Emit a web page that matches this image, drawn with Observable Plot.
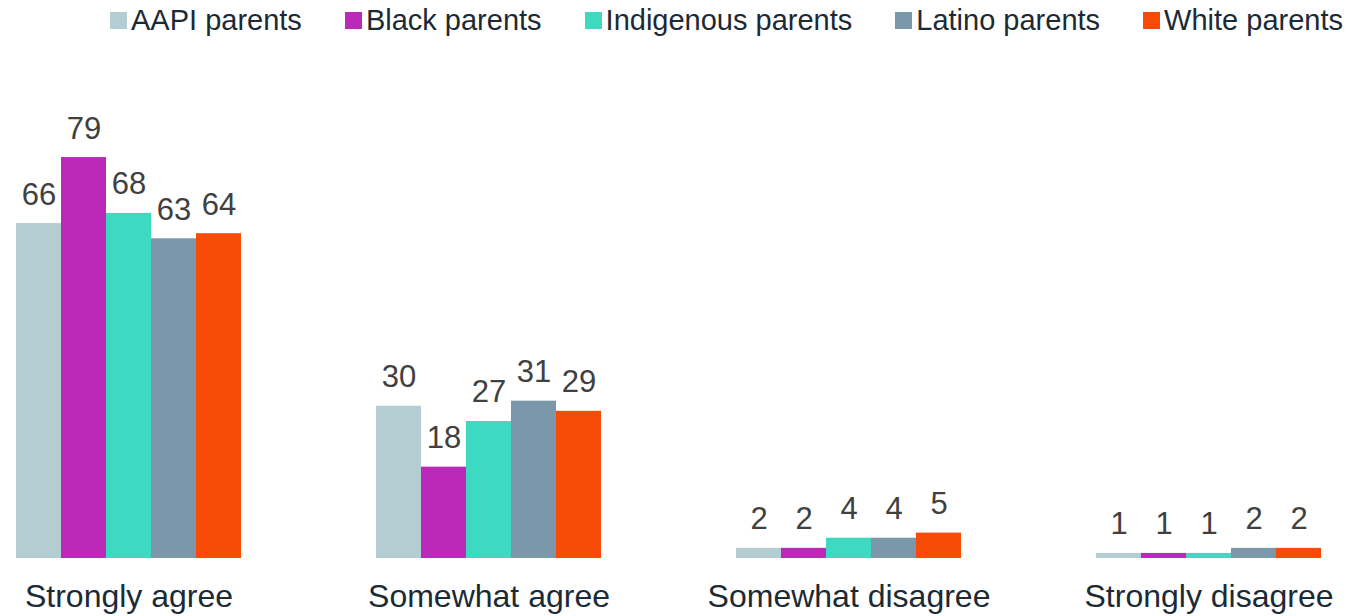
<!DOCTYPE html>
<html>
<head>
<meta charset="utf-8">
<script src="https://cdn.jsdelivr.net/npm/d3@7"></script>
<script src="https://cdn.jsdelivr.net/npm/@observablehq/plot@0.6"></script>
<style>
  body { margin: 0; background: #fff; font-family: "Liberation Sans", Arial, sans-serif; }
  #legend { height: 40px; display: flex; justify-content: flex-end; align-items: center; padding-right: 10px; font-size: 29px; color: #1b2a35; }
  .item { display: flex; align-items: center; margin-left: 43px; }
  .sw { width: 17px; height: 17px; margin-right: 4px; }
</style>
</head>
<body>
<div id="legend"></div>
<div id="chart"></div>
<script>
const categories = ["Strongly agree", "Somewhat agree", "Somewhat disagree", "Strongly disagree"];
const series = ["AAPI parents", "Black parents", "Indigenous parents", "Latino parents", "White parents"];
const colors = ["#B4CDD2", "#BA29B8", "#3DD9C1", "#7A98AA", "#F74C07"];
const aapi = [66, 30, 2, 1];
const black = [79, 18, 2, 1];
const indigenous = [68, 27, 4, 1];
const latino = [63, 31, 4, 2];
const white = [64, 29, 5, 2];

const seriesValues = [aapi, black, indigenous, latino, white];
const data = [];
categories.forEach((c, i) => {
  series.forEach((s, j) => data.push({category: c, series: s, value: seriesValues[j][i]}));
});

const legend = document.getElementById("legend");
series.forEach((s, j) => {
  const it = document.createElement("div");
  it.className = "item";
  if (j === 0) it.style.marginLeft = "0";
  const sw = document.createElement("div");
  sw.className = "sw";
  sw.style.background = colors[j];
  const t = document.createElement("span");
  t.textContent = s;
  it.appendChild(sw); it.appendChild(t);
  legend.appendChild(it);
});

const chart = Plot.plot({
  width: 1353,
  height: 576,
  marginLeft: 16,
  marginRight: 32,
  marginTop: 112,
  marginBottom: 58,
  style: {fontFamily: "Liberation Sans, Arial, sans-serif", color: "#1b2a35", background: "#fff"},
  fx: {domain: categories, paddingInner: 0.375, paddingOuter: 0, label: null},
  x: {domain: series, padding: 0, axis: null},
  y: {domain: [0, 80], axis: null},
  color: {domain: series, range: colors},
  marks: [
    Plot.barY(data, {fx: "category", x: "series", y: "value", fill: "series", insetLeft: 0, insetRight: 0}),
    Plot.text(data, {fx: "category", x: "series", y: "value", text: d => String(d.value), lineAnchor: "bottom", dy: -19, fontSize: 31, fill: "#404040"}),
    Plot.axisFx({anchor: "bottom", tickSize: 0, tickPadding: 26, fontSize: 32, label: null, fill: "#1b2a35"})
  ]
});
document.getElementById("chart").appendChild(chart);
</script>
</body>
</html>
